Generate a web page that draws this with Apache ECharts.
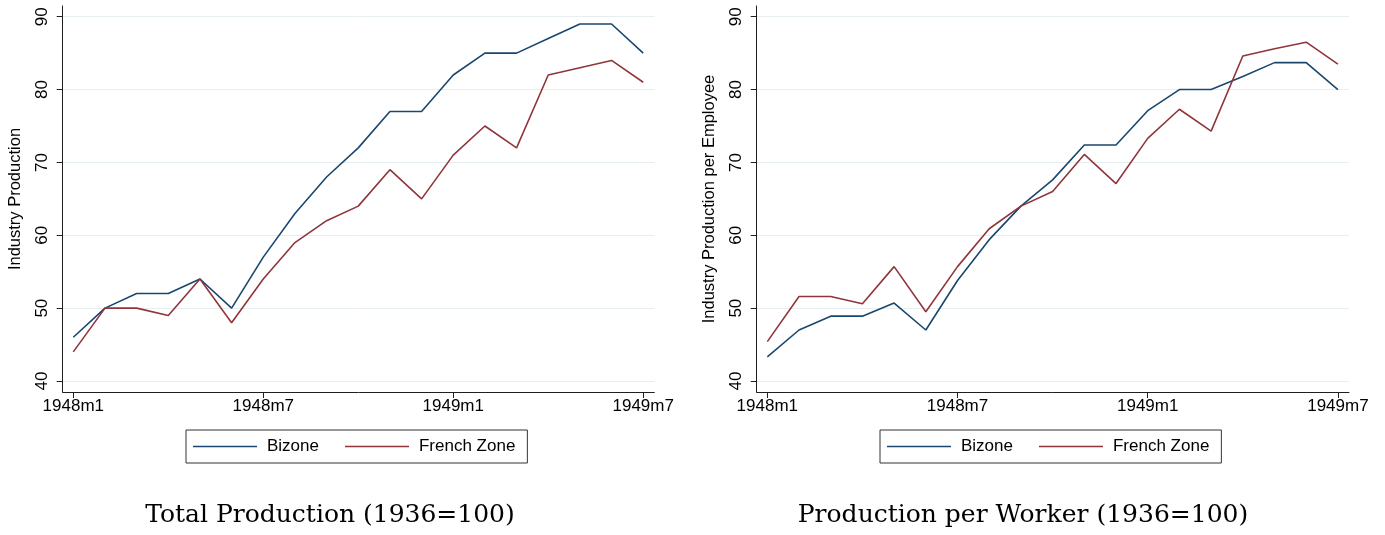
<!DOCTYPE html>
<html>
<head>
<meta charset="utf-8">
<script src="https://cdn.jsdelivr.net/npm/echarts@6/dist/echarts.min.js"></script>
<style>
html,body{margin:0;padding:0;background:#fff;}
#chart{width:1385px;height:535px;}
</style>
</head>
<body>
<div id="chart"></div>
<script>
const months = ['1948m1','1948m2','1948m3','1948m4','1948m5','1948m6','1948m7','1948m8','1948m9','1948m10','1948m11','1948m12',
                '1949m1','1949m2','1949m3','1949m4','1949m5','1949m6','1949m7'];
const xTickIndex = [0, 6, 12, 18];
const yTicks = [40, 50, 60, 70, 80, 90];
const seriesNames = ['Bizone', 'French Zone'];

const totalBizone = [46,50,52,52,54,50,57,63,68,72,77,77,82,85,85,87,89,89,85];
const totalFrench = [44,50,50,49,54,48,54,59,62,64,69,65,71,75,72,82,83,84,81];

const workerBizone = [43.3,47.0,48.9,48.9,50.7,47.0,53.8,59.4,64.0,67.6,72.4,72.4,77.1,80.0,80.0,81.8,83.7,83.7,80.0];
const workerFrench = [45.4,51.6,51.6,50.6,55.7,49.5,55.7,60.9,64.0,66.0,71.1,67.1,73.3,77.3,74.3,84.6,85.6,86.5,83.5];

const panelTitles = ['Total Production (1936=100)', 'Production per Worker (1936=100)'];
const yNames = ['Industry Production', 'Industry Production per Employee'];

const colors = ['#1a476f', '#90353b'];
const axisColor = '#1f1f1f';
const gridColor = '#e6eeef';
const sans = 'Liberation Sans, Arial, sans-serif';

function pairs(arr){ return arr.map((v,i)=>[i,v]); }

function xAxis(gi){
  return {
    type:'value', gridIndex:gi, min:-0.335, max:18.35,
    axisLine:{show:true, onZero:false, lineStyle:{color:axisColor, width:1}},
    axisTick:{show:true, length:6, customValues:xTickIndex, lineStyle:{color:axisColor}},
    axisLabel:{customValues:xTickIndex, formatter:(v)=>months[Math.round(v)], color:'#000', fontFamily:sans, fontSize:17, margin:6},
    splitLine:{show:false}
  };
}
function yAxis(gi, name){
  return {
    type:'value', gridIndex:gi, min:38.49, max:91.47,
    name:name, nameLocation:'middle', nameGap:39, nameRotate:90,
    nameTextStyle:{color:'#000', fontFamily:sans, fontSize:16.5},
    axisLine:{show:true, onZero:false, lineStyle:{color:axisColor, width:1}},
    axisTick:{show:true, length:6, customValues:yTicks, lineStyle:{color:axisColor}},
    axisLabel:{customValues:yTicks, rotate:90, color:'#000', fontFamily:sans, fontSize:17, margin:12},
    splitLine:{show:true, lineStyle:{color:gridColor, width:1}}
  };
}
function lineSeries(name, data, gi, ci){
  return {
    type:'line', name:name, xAxisIndex:gi, yAxisIndex:gi, data:pairs(data),
    symbol:'none', animation:false,
    lineStyle:{color:colors[ci], width:1.6}, itemStyle:{color:colors[ci]}
  };
}
function legend(left){
  return {
    left:left, top:430, orient:'horizontal',
    data:seriesNames.map(n=>({name:n, icon:'rect'})),
    itemWidth:64, itemHeight:1.6, itemGap:26,
    borderColor:'#333', borderWidth:1, borderRadius:0,
    padding:[8,12,8,7],
    textStyle:{color:'#000', fontFamily:sans, fontSize:17, padding:[0,0,0,5]}
  };
}

const chart = echarts.init(document.getElementById('chart'), null, {renderer:'canvas'});
chart.setOption({
  backgroundColor:'#fff',
  animation:false,
  title:[
    {text:panelTitles[0], left:330, top:503, textAlign:'center', padding:0,
     textStyle:{fontFamily:'DejaVu Serif, serif', fontWeight:'normal', fontSize:25, color:'#000'}},
    {text:panelTitles[1], left:1023, top:503, textAlign:'center', padding:0,
     textStyle:{fontFamily:'DejaVu Serif, serif', fontWeight:'normal', fontSize:25, color:'#000'}}
  ],
  grid:[
    {left:62.7, top:6, width:591.6, height:386, containLabel:false},
    {left:756.7, top:6, width:592.3, height:386, containLabel:false}
  ],
  xAxis:[xAxis(0), xAxis(1)],
  yAxis:[yAxis(0, yNames[0]), yAxis(1, yNames[1])],
  legend:[legend(186), legend(880)],
  series:[
    lineSeries(seriesNames[0], totalBizone, 0, 0),
    lineSeries(seriesNames[1], totalFrench, 0, 1),
    lineSeries(seriesNames[0], workerBizone, 1, 0),
    lineSeries(seriesNames[1], workerFrench, 1, 1)
  ]
});
</script>
</body>
</html>
